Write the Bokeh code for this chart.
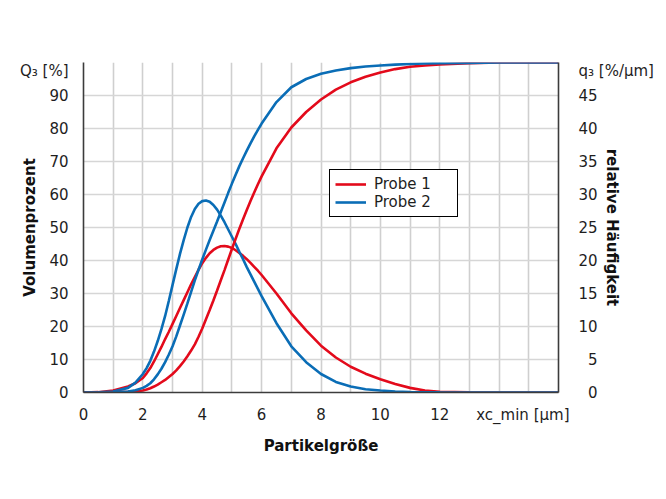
from bokeh.plotting import figure
from bokeh.models import (Range1d, LinearAxis, FixedTicker, Grid, Legend, LegendItem)
from bokeh.embed import file_html
from bokeh.resources import INLINE

# Particle size grid [µm]
x_um = [0, 0.5, 1, 1.5, 1.75,
        2.0, 2.125, 2.25, 2.375, 2.5, 2.625, 2.75, 2.875,
        3.0, 3.125, 3.25, 3.375, 3.5, 3.625, 3.75, 3.875,
        4.0, 4.125, 4.25, 4.375, 4.5, 4.625, 4.75, 4.875,
        5.0, 5.125, 5.25, 5.375, 5.5, 5.625, 5.75, 5.875, 6.0,
        6.5, 7, 7.5, 8, 8.5, 9, 9.5, 10, 10.5, 11, 11.5, 12,
        13, 14, 15, 16]

# Cumulative distribution Q3 [%] (left axis)
Q3_probe1 = [0, 0, 0.05, 0.2, 0.35,
             0.6, 0.9, 1.3, 1.8, 2.4, 3.1, 3.8, 4.7,
             5.6, 6.7, 8.0, 9.4, 11.0, 12.7, 14.6, 16.9,
             19.4, 22.2, 25.0, 27.9, 30.9, 34.0, 37.1, 40.3,
             43.5, 46.6, 49.6, 52.5, 55.3, 58.0, 60.6, 63.1, 65.5,
             74.0, 80.3, 85.0, 88.8, 91.8, 94.0, 95.7, 97.0, 98.0, 98.7, 99.1, 99.4,
             99.8, 100, 100, 100]
Q3_probe2 = [0, 0, 0.05, 0.3, 0.7,
             1.4, 2.0, 2.8, 4.0, 5.5, 7.2, 9.2, 11.5,
             14.0, 17.0, 20.3, 23.6, 27.0, 30.5, 34.0, 37.2,
             40.3, 43.3, 46.2, 49.0, 51.8, 54.7, 57.6, 60.5,
             63.3, 66.0, 68.6, 71.0, 73.3, 75.5, 77.6, 79.6, 81.5,
             88.0, 92.5, 95.0, 96.6, 97.6, 98.3, 98.8, 99.1, 99.35, 99.55, 99.7, 99.8,
             99.9, 100, 100, 100]

# Density distribution q3 [%/µm] (right axis)
q3_probe1 = [0, 0.05, 0.3, 0.9, 1.4,
             2.2, 2.9, 3.7, 4.7, 5.8, 6.9, 8.1, 9.2,
             10.4, 11.6, 12.8, 14.0, 15.2, 16.4, 17.5, 18.6,
             19.6, 20.4, 21.1, 21.6, 21.95, 22.15, 22.2, 22.1,
             21.9, 21.55, 21.15, 20.7, 20.2, 19.65, 19.05, 18.45, 17.8,
             15.0, 12.0, 9.4, 7.1, 5.3, 3.9, 2.85, 2.0, 1.3, 0.7, 0.3, 0.1,
             0.02, 0, 0, 0]
q3_probe2 = [0, 0.02, 0.15, 0.7, 1.5,
             2.8, 3.7, 4.8, 6.2, 7.8, 9.6, 11.6, 13.9,
             16.3, 18.7, 21.0, 23.1, 25.0, 26.6, 27.8, 28.6,
             29.0, 29.1, 28.9, 28.4, 27.7, 26.8, 25.8, 24.7,
             23.6, 22.5, 21.3, 20.2, 19.0, 17.9, 16.8, 15.7, 14.6,
             10.5, 7.0, 4.6, 2.8, 1.6, 0.9, 0.5, 0.3, 0.15, 0.08, 0.04, 0.02,
             0, 0, 0, 0]

x_ticks = [0, 2, 4, 6, 8, 10, 12]
x_unit_label = "xc_min [µm]"
left_ticks = [0, 10, 20, 30, 40, 50, 60, 70, 80, 90]
left_unit_label = "Q₃ [%]"
right_ticks = [0, 5, 10, 15, 20, 25, 30, 35, 40, 45]
right_unit_label = "q₃ [%/µm]"

RED = "#e30a1b"
BLUE = "#0a6db6"
FONT = "DejaVu Sans"
TXT = "#1e1e1e"

p = figure(width=666, height=499, output_backend="svg", toolbar_location=None,
           x_range=Range1d(0, 16), y_range=Range1d(0, 100),
           min_border_left=83, min_border_top=62, min_border_right=108, min_border_bottom=107,
           background_fill_color="white", border_fill_color="white", outline_line_color=None)
p.extra_y_ranges = {"dens": Range1d(0, 50)}

# grids
p.xgrid.visible = False
p.ygrid.visible = False
p.add_layout(Grid(dimension=0, ticker=FixedTicker(ticks=list(range(0, 17))),
                  grid_line_color="#cfcfcf", grid_line_width=1.6))
p.add_layout(Grid(dimension=1, ticker=FixedTicker(ticks=list(range(0, 101, 10))),
                  grid_line_color="#d6d6d6", grid_line_width=1.6))

# x axis
xa = p.xaxis[0]
xa.ticker = FixedTicker(ticks=x_ticks + [14.8])
xa.major_label_overrides = {14.8: x_unit_label}
xa.axis_label = "Partikelgröße"

# left axis (unit label as extra tick label near the top)
ya = p.yaxis[0]
ya.ticker = FixedTicker(ticks=left_ticks + [97.3])
ya.major_label_overrides = {97.3: left_unit_label}
ya.axis_label = "Volumenprozent"

# right axis
ra = LinearAxis(y_range_name="dens", ticker=FixedTicker(ticks=right_ticks + [48.65]),
                axis_label="relative Häufigkeit")
ovr = {t: ("\u2007" + str(t) if t < 10 else str(t)) for t in right_ticks}
ovr[48.65] = right_unit_label
ra.major_label_overrides = ovr
p.add_layout(ra, "right")

for ax in [xa, ya, ra]:
    ax.axis_line_color = "#3c3c3c"
    ax.axis_line_width = 1.6
    ax.major_tick_line_color = None
    ax.minor_tick_line_color = None
    ax.major_label_text_font = FONT
    ax.major_label_text_font_size = "15px"
    ax.major_label_text_color = TXT
    ax.axis_label_text_font = FONT
    ax.axis_label_text_font_size = "15px"
    ax.axis_label_text_font_style = "bold"
    ax.axis_label_text_color = "#111111"
xa.major_label_standoff = 7
xa.axis_label_standoff = 10
ya.major_label_standoff = 9
ya.axis_label_standoff = -22
ra.major_label_standoff = 14
ra.axis_label_standoff = -54

# curves
r1q = p.line(x_um, q3_probe1, y_range_name="dens", line_color=RED, line_width=2.6)
r2q = p.line(x_um, q3_probe2, y_range_name="dens", line_color=BLUE, line_width=2.6)
r1 = p.line(x_um, Q3_probe1, line_color=RED, line_width=2.6)
r2 = p.line(x_um, Q3_probe2, line_color=BLUE, line_width=2.6)

legend = Legend(items=[LegendItem(label="Probe 1", renderers=[r1]),
                       LegendItem(label="Probe 2", renderers=[r2])],
                location=(246, 175), border_line_color="#000000", border_line_width=1.5,
                border_line_alpha=1.0,
                background_fill_color="white", background_fill_alpha=1.0,
                label_text_font=FONT, label_text_font_size="15px", label_text_color=TXT,
                glyph_width=31, glyph_height=18, label_height=18, label_width=78,
                label_standoff=8, padding=5, spacing=0, margin=0)
p.add_layout(legend)

open("out.html", "w").write(file_html(p, INLINE))
